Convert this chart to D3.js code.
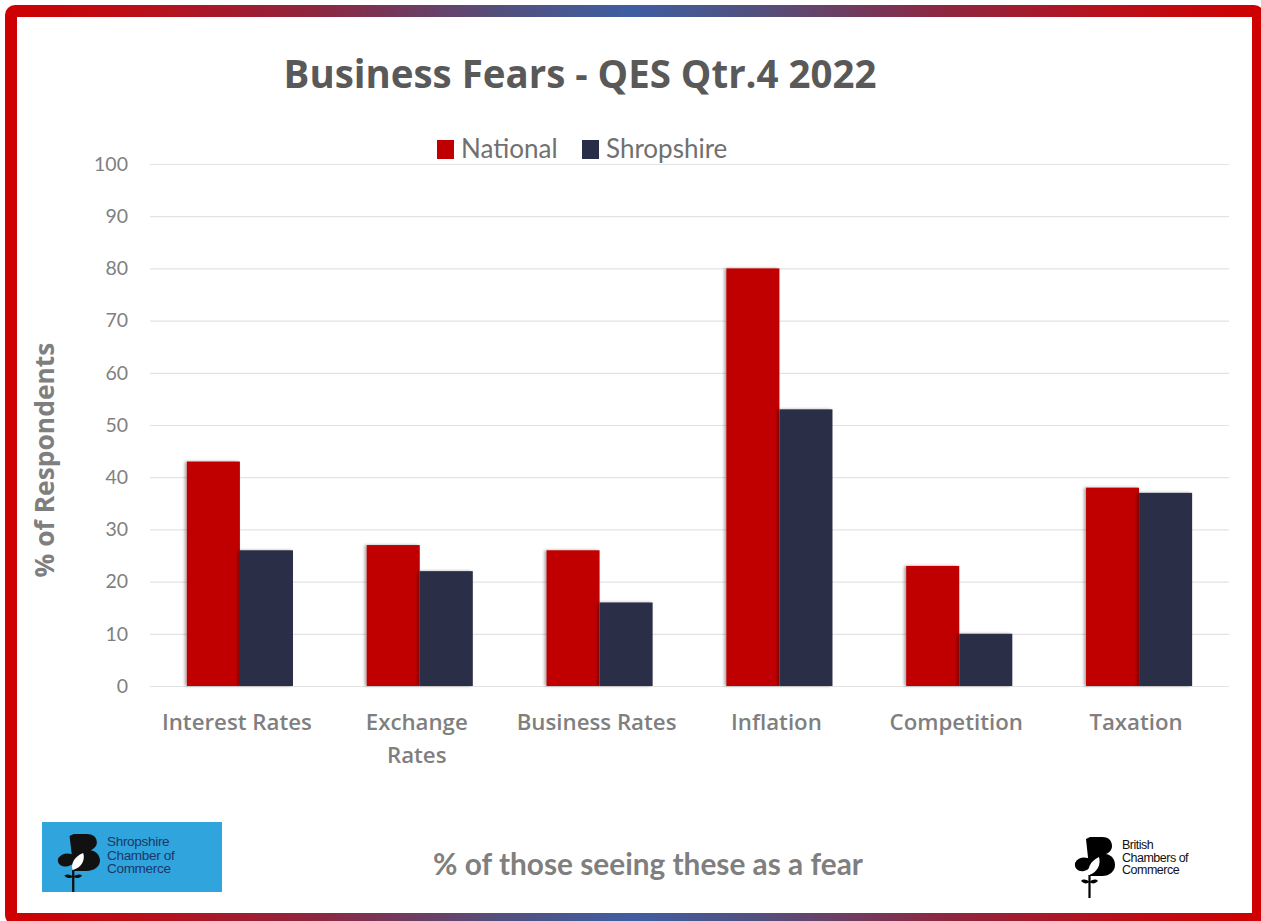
<!DOCTYPE html>
<html>
<head>
<meta charset="utf-8">
<script src="https://cdn.jsdelivr.net/npm/d3@7"></script>
<style>
  html, body { margin: 0; padding: 0; background: #ffffff; }
  svg { display: block; }
</style>
</head>
<body>
<svg id="chart" width="1261" height="921"></svg>
<script>
// ---- data ----
const categories = ["Interest Rates", "Exchange Rates", "Business Rates", "Inflation", "Competition", "Taxation"];
const categoryLines = [["Interest Rates"], ["Exchange", "Rates"], ["Business Rates"], ["Inflation"], ["Competition"], ["Taxation"]];
const seriesNames = ["National", "Shropshire"];
const nationalValues = [43, 27, 26, 80, 23, 38];
const shropshireValues = [26, 22, 16, 53, 10, 37];
const yTicks = [0, 10, 20, 30, 40, 50, 60, 70, 80, 90, 100];
const titleText = "Business Fears - QES Qtr.4 2022";
const yAxisTitle = "% of Respondents";
const footerText = "% of those seeing these as a fear";

const seriesColors = ["#c00000", "#2a2d47"];
const FONT = "'Open Sans', Lato, sans-serif";
const FONT2 = "Lato, 'Open Sans', sans-serif";

const svg = d3.select("#chart");
const W = 1261, H = 921;
const defs = svg.append("defs");

// scale a text's font size so its width matches a target width
function fitWidth(sel, target) {
  const node = sel.node();
  const w = node.getComputedTextLength();
  const fs = parseFloat(sel.attr("font-size"));
  if (w > 0) sel.attr("font-size", (fs * target / w).toFixed(2));
  return sel;
}

// frame gradient
const grad = defs.append("linearGradient").attr("id", "frameGrad")
  .attr("gradientUnits", "userSpaceOnUse").attr("x1", 0).attr("x2", W).attr("y1", 0).attr("y2", 0);
[[0, "#d00000"], [0.12, "#b8101c"], [0.25, "#8e2640"], [0.4, "#52507e"], [0.5, "#3f5ea2"],
 [0.6, "#52507e"], [0.75, "#8e2640"], [0.88, "#b8101c"], [1, "#d00000"]]
  .forEach(([o, c]) => grad.append("stop").attr("offset", o).attr("stop-color", c));

// bar shadow
const f = defs.append("filter").attr("id", "barShadow").attr("x", "-20%").attr("y", "-5%").attr("width", "140%").attr("height", "110%");
f.append("feDropShadow").attr("dx", -2).attr("dy", 0).attr("stdDeviation", 1.6)
  .attr("flood-color", "#000").attr("flood-opacity", 0.35);

// background
svg.append("rect").attr("x", 0).attr("y", 0).attr("width", W).attr("height", H).attr("fill", "#ffffff");
// frame
svg.append("rect").attr("x", 11).attr("y", 11).attr("width", 1247).attr("height", 908)
  .attr("rx", 4).attr("fill", "none").attr("stroke", "url(#frameGrad)").attr("stroke-width", 12);

// ---- scales ----
const plot = { left: 150, right: 1229, top: 164, bottom: 686 };
const x0 = d3.scaleBand().domain(categories).range([plot.left, plot.right]).paddingInner(0.41).paddingOuter(0.205);
const x1 = d3.scaleBand().domain(seriesNames).range([0, x0.bandwidth()]).padding(0);
const y = d3.scaleLinear().domain([0, 100]).range([plot.bottom, plot.top]);
const color = d3.scaleOrdinal().domain(seriesNames).range(seriesColors);

// gridlines + y tick labels via axis
const yAxis = d3.axisLeft(y).tickValues(yTicks).tickSize(-(plot.right - plot.left)).tickPadding(22);
const gy = svg.append("g").attr("transform", `translate(${plot.left},0)`).call(yAxis);
gy.select(".domain").remove();
gy.selectAll(".tick line").attr("stroke", "#e3e3e3").attr("stroke-width", 1.2);
gy.selectAll(".tick text").attr("fill", "#808080").attr("font-family", FONT2)
  .attr("font-size", 19.5).attr("font-weight", 400);

// bars
const table = categories.map((c, i) => ({ cat: c, values: [nationalValues[i], shropshireValues[i]] }));
const groups = svg.append("g").selectAll("g").data(table).join("g")
  .attr("transform", d => `translate(${x0(d.cat)},0)`);
groups.selectAll("rect").data(d => seriesNames.map((s, j) => ({ s, v: d.values[j] }))).join("rect")
  .attr("x", d => x1(d.s)).attr("width", x1.bandwidth())
  .attr("y", d => y(d.v)).attr("height", d => y(0) - y(d.v))
  .attr("fill", d => color(d.s)).attr("filter", "url(#barShadow)");

// x labels: size chosen so "Interest Rates" spans ~150px
const probe = svg.append("text").attr("font-family", FONT).attr("font-weight", 600)
  .attr("font-size", 20).text(categories[0]);
fitWidth(probe, 150);
const xFs = probe.attr("font-size");
probe.remove();
const xl = svg.append("g").selectAll("text").data(categories).join("text")
  .attr("y", 730)
  .attr("text-anchor", "middle")
  .attr("font-family", FONT).attr("font-weight", 600).attr("font-size", xFs).attr("fill", "#7f7f7f");
xl.each(function (d, i) {
  const t = d3.select(this);
  const cx = x0(d) + x0.bandwidth() / 2 - 3;
  categoryLines[i].forEach((ln, k) => {
    t.append("tspan").attr("x", cx).attr("dy", k === 0 ? 0 : 33).text(ln);
  });
});

// title
const title = svg.append("text").attr("x", 580).attr("y", 88).attr("text-anchor", "middle")
  .attr("font-family", FONT).attr("font-weight", 700).attr("font-size", 31).attr("fill", "#595959")
  .text(titleText);
fitWidth(title, 593);

// legend
const legendX = [437, 582];
const lg = svg.append("g").selectAll("g").data(seriesNames).join("g")
  .attr("transform", (d, i) => `translate(${legendX[i]},140)`);
lg.append("rect").attr("width", 17).attr("height", 19).attr("fill", d => color(d));
lg.append("text").attr("x", 24).attr("y", 18).attr("font-family", FONT2).attr("font-size", 26)
  .attr("fill", "#707070").text(d => d);

// y axis title
const yt = svg.append("text").attr("transform", "translate(54,460) rotate(-90)").attr("text-anchor", "middle")
  .attr("font-family", FONT).attr("font-weight", 700).attr("font-size", 24).attr("fill", "#7f7f7f")
  .text(yAxisTitle);
fitWidth(yt, 235);

// footer
const ft = svg.append("text").attr("x", 648).attr("y", 875).attr("text-anchor", "middle")
  .attr("font-family", FONT2).attr("font-weight", 700).attr("font-size", 25).attr("fill", "#7f7f7f")
  .text(footerText);
fitWidth(ft, 430);

// ---- logos ----
function drawMark(g, fill, innerFill) {
  g.append("path").attr("fill", fill)
    .attr("d", "M11,2 L15,0 L27,0 C35,0 37,5 37,9 C37,13 34,16 31,17 C37,18 40,23 40,28 C40,34 35,39 27,39 L15,39 Z");
  g.append("path").attr("fill", fill)
    .attr("d", "M16,23 C11,19 3,20 0,26 C-1,32 4,35 9,34 C13,33 16,30 16,27 Z");
  g.append("path").attr("fill", innerFill)
    .attr("d", "M14,38 C12,32 15,24 24,20 C26,27 23,35 14,38 Z");
  g.append("line").attr("x1", 14.5).attr("x2", 14.5).attr("y1", 38).attr("y2", 61)
    .attr("stroke", fill).attr("stroke-width", 2.2);
  g.append("path").attr("fill", fill).attr("d", "M14.5,45 C11,42 8,42 6,44 C9,47 12,47 14.5,45 Z");
  g.append("path").attr("fill", fill).attr("d", "M14.5,45 C18,42 21,42 23,44 C20,47 17,47 14.5,45 Z");
}

// Shropshire Chamber logo
const shLogo = svg.append("g");
shLogo.append("rect").attr("x", 42).attr("y", 822).attr("width", 180).attr("height", 70).attr("fill", "#30a4dc");
const shMark = shLogo.append("g").attr("transform", "translate(58,834) scale(1.05,0.95)");
drawMark(shMark, "#111111", "#ffffff");
const shText = ["Shropshire", "Chamber of", "Commerce"];
shLogo.selectAll("text.sh").data(shText).join("text").attr("class", "sh")
  .attr("x", 107).attr("y", (d, i) => 846 + i * 13.5)
  .attr("font-family", "'Liberation Sans', Arial, sans-serif").attr("font-size", 13.5)
  .attr("fill", "#1b3768").attr("letter-spacing", -0.3).text(d => d);

// British Chambers logo
const bcLogo = svg.append("g");
const bcMark = bcLogo.append("g").attr("transform", "translate(1075,837)");
drawMark(bcMark, "#000000", "#ffffff");
const bcText = ["British", "Chambers of", "Commerce"];
bcLogo.selectAll("text.bc").data(bcText).join("text").attr("class", "bc")
  .attr("x", 1122).attr("y", (d, i) => 849 + i * 12.5)
  .attr("font-family", "'Liberation Sans', Arial, sans-serif").attr("font-size", 12.5)
  .attr("fill", "#111111").attr("letter-spacing", -0.5).text(d => d);
</script>
</body>
</html>
